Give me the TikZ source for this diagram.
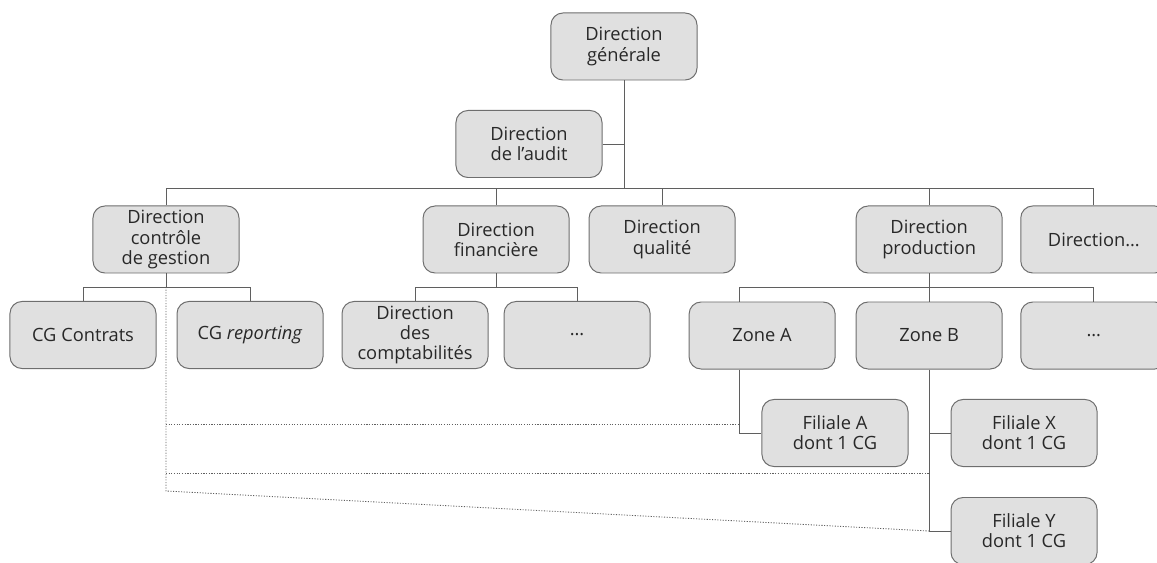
\documentclass[tikz,border=0pt]{standalone}
\usepackage{fontspec}
\setmainfont{Open Sans}
\usetikzlibrary{positioning}
\definecolor{box_fill}{RGB}{224,224,224}
\definecolor{box_line}{RGB}{110,110,110}
\definecolor{link_gray}{RGB}{95,95,95}
\definecolor{txt_gray}{RGB}{40,40,40}

\begin{document}
\begin{tikzpicture}[
      x=0.025cm, y=-0.025cm,
      orgbox/.style={
         rectangle,
         rounded corners=0.3cm,
         draw=box_line,
         fill=box_fill,
         line width=0.7pt,
         text=txt_gray,
         align=center,
         inner sep=0pt,
         minimum width=3.65cm,
         minimum height=1.675cm,
         font=\fontsize{13}{14.3}\selectfont},
      link/.style={
         draw=link_gray,
         line width=0.6pt},
      dotlink/.style={
         draw=link_gray,
         line width=0.6pt,
         dash pattern=on 0.8pt off 1.1pt},
      ]
      \useasboundingbox (0,0) rectangle (1157,563);

      % top
      \node[orgbox] (dg) at (624,46.5) {Direction\\générale};
      \node[orgbox] (audit) at (529,144) {Direction\\de l’audit};

      % directions
      \node[orgbox] (dcg) at (166,239.5) {Direction\\contrôle\\de gestion};
      \node[orgbox,right=4.575cm of dcg] (dfin) {Direction\\financière};
      \node[orgbox,right=0.475cm of dfin] (dqual) {Direction\\qualité};
      \node[orgbox,right=3.0cm of dqual] (dprod) {Direction\\production};
      \node[orgbox,right=0.44cm of dprod] (dautre) {Direction…};

      % services
      \node[orgbox] (cgc) at (83,335) {CG Contrats};
      \node[orgbox,right=0.5cm of cgc] (cgr) {CG \textit{reporting}};
      \node[orgbox,right=0.45cm of cgr] (dcompta) {Direction\\des\\comptabilités};
      \node[orgbox,right=0.375cm of dcompta] (fdots) {…};
      \node[orgbox,below=0.7cm of dprod] (zB) {Zone B};
      \node[orgbox,left=0.5cm of zB] (zA) {Zone A};
      \node[orgbox,below=0.7cm of dautre] (zdots) {…};

      % filiales
      \node[orgbox] (filA) at (835,433) {Filiale A\\dont 1 CG};
      \node[orgbox,right=1.05cm of filA] (filX) {Filiale X\\dont 1 CG};
      \node[orgbox,below=0.75cm of filX] (filY) {Filiale Y\\dont 1 CG};

      \coordinate (bar) at (0,188);
      \coordinate (sub) at (0,287);
      \coordinate (zaline) at (739,0);
      \coordinate (d1) at (0,424);
      \coordinate (d2) at (0,473);
      \coordinate (d3) at (0,491);

      % main tree
      \draw[link] (dg.south) -- (dg.south |- bar);
      \draw[link] (audit.east) -- (audit.east -| dg.south);
      \draw[link] (dcg.north |- bar) -- (dautre.north |- bar);
      \foreach \n in {dcg,dfin,dqual,dprod,dautre}
        \draw[link] (\n.north) -- (\n.north |- bar);

      % sub levels
      \foreach \p/\a/\b in {dcg/cgc/cgr, dfin/dcompta/fdots}{
        \draw[link] (\p.south) -- (\p.south |- sub);
        \draw[link] (\a.north) -- (\a.north |- sub) -- (\b.north |- sub) -- (\b.north);
      }
      \draw[link] (dprod.south) -- (zB.north);
      \draw[link] (zaline |- zA.north) -- (zaline |- sub) -- (zdots.north |- sub) -- (zdots.north);

      % zones to filiales
      \draw[link] (zaline |- zA.south) -- (zaline |- filA.west) -- (filA.west);
      \draw[link] (zB.south) -- (zB.south |- filY.west) -- (filY.west);
      \draw[link] (zB.south |- filX.west) -- (filX.west);

      % controle de gestion links
      \draw[dotlink] (dcg.south |- sub) -- (dcg.south |- d3) -- (zB.south |- filY.west);
      \draw[dotlink] (dcg.south |- d1) -- (zaline |- d1);
      \draw[dotlink] (dcg.south |- d2) -- (zB.south |- d2);
\end{tikzpicture}
\end{document}
